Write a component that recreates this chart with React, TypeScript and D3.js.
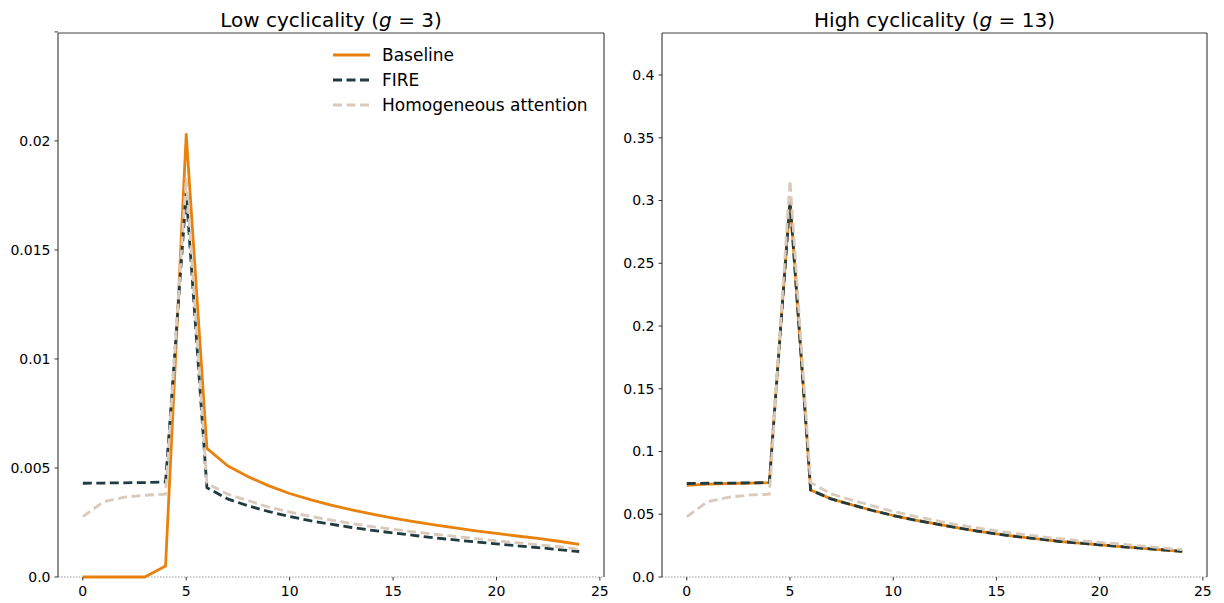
import React from "react";
import * as d3 from "d3";

const periods = d3.range(0, 25);

// Low cyclicality (g = 3)
const lowBaseline = [0, 0, 0, 0, 0.0005, 0.0203, 0.0059, 0.0051, 0.0046, 0.00418, 0.00383, 0.00355, 0.0033, 0.00308, 0.00288, 0.0027, 0.00254, 0.00239, 0.00225, 0.00212, 0.002, 0.00188, 0.00177, 0.00164, 0.0015];
const lowFire = [0.0043, 0.00431, 0.00432, 0.00433, 0.00436, 0.0176, 0.0041, 0.00358, 0.00326, 0.003, 0.00277, 0.00258, 0.00242, 0.00227, 0.00214, 0.00202, 0.00191, 0.0018, 0.0017, 0.00161, 0.00152, 0.00143, 0.00135, 0.00126, 0.00117];
const lowHomog = [0.00277, 0.00345, 0.00366, 0.00375, 0.0038, 0.0183, 0.0043, 0.0038, 0.0035, 0.0032, 0.00298, 0.00278, 0.00261, 0.00245, 0.00231, 0.00219, 0.00207, 0.00196, 0.00186, 0.00176, 0.00166, 0.00157, 0.00148, 0.00139, 0.00128];

// High cyclicality (g = 13)
const highBaseline = [0.073, 0.074, 0.0745, 0.0748, 0.0752, 0.302, 0.0693, 0.0622, 0.0575, 0.053, 0.049, 0.0455, 0.0425, 0.0395, 0.0368, 0.0343, 0.0322, 0.0303, 0.0285, 0.027, 0.0257, 0.0243, 0.023, 0.0217, 0.0204];
const highFire = [0.0745, 0.0747, 0.0748, 0.075, 0.0752, 0.3, 0.0693, 0.0622, 0.0575, 0.053, 0.049, 0.0455, 0.0425, 0.0395, 0.0368, 0.0343, 0.0322, 0.0303, 0.0285, 0.027, 0.0257, 0.0243, 0.023, 0.0217, 0.0204];
const highHomog = [0.048, 0.06, 0.0635, 0.0653, 0.066, 0.316, 0.0752, 0.0662, 0.0613, 0.0567, 0.0522, 0.0485, 0.0452, 0.042, 0.0393, 0.0368, 0.0345, 0.0325, 0.0306, 0.029, 0.0276, 0.0262, 0.0248, 0.0233, 0.0218];

const xTicks = [0, 5, 10, 15, 20, 25];
const lowYTicks = [0, 0.005, 0.01, 0.015, 0.02, 0.025];
const lowYLabels = ["0.0", "0.005", "0.01", "0.015", "0.02", ""];
const highYTicks = [0, 0.05, 0.1, 0.15, 0.2, 0.25, 0.3, 0.35, 0.4];
const highYLabels = ["0.0", "0.05", "0.1", "0.15", "0.2", "0.25", "0.3", "0.35", "0.4"];

const seriesNames = ["Baseline", "FIRE", "Homogeneous attention"];

const ORANGE = "#e8820c";
const DARK = "#213c40";
const BEIGE = "#d9cabb";
const FONT = "DejaVu Sans, sans-serif";

type PanelProps = {
  left: number;
  right: number;
  top: number;
  bottom: number;
  yMax: number;
  yTicks: number[];
  yLabels: string[];
  baseline: number[];
  fire: number[];
  homog: number[];
  titlePre: string;
  titleNum: string;
  legend?: boolean;
};

function Panel(p: PanelProps) {
  const x = d3.scaleLinear().domain([-1.2, 25.2]).range([p.left, p.right]);
  const y = d3.scaleLinear().domain([0, p.yMax]).range([p.bottom, p.top]);
  const line = (vals: number[]) =>
    d3.line<number>().x((_, i) => x(periods[i])).y((v) => y(v))(vals) || "";
  const cx = (p.left + p.right) / 2;
  const dash = "9,4.5";
  const lw = 2.8;
  return (
    <g>
      <text x={cx} y={26.5} textAnchor="middle" fontFamily={FONT} fontSize={20} fill="#000">
        {p.titlePre}
        <tspan fontStyle="italic">g</tspan>
        {" = " + p.titleNum + ")"}
      </text>
      {/* zero dotted line */}
      <line x1={p.left} x2={p.right} y1={p.bottom} y2={p.bottom} stroke="#999" strokeWidth={1} strokeDasharray="1.5,1.5" />
      {/* series */}
      <path d={line(p.baseline)} fill="none" stroke={ORANGE} strokeWidth={lw} strokeLinejoin="round" />
      <path d={line(p.fire)} fill="none" stroke={DARK} strokeWidth={lw} strokeDasharray={dash} />
      <path d={line(p.homog)} fill="none" stroke={BEIGE} strokeWidth={lw} strokeDasharray={dash} />
      {/* spines */}
      <line x1={p.left} x2={p.right} y1={p.top} y2={p.top} stroke="#808080" strokeWidth={1.3} />
      <line x1={p.left} x2={p.left} y1={p.top} y2={p.bottom} stroke="#222" strokeWidth={1} />
      <line x1={p.right} x2={p.right} y1={p.top} y2={p.bottom} stroke="#222" strokeWidth={1} />
      {/* x ticks */}
      {xTicks.map((t) => (
        <g key={"x" + t}>
          <line x1={x(t)} x2={x(t)} y1={p.bottom} y2={p.bottom + 3.5} stroke="#222" strokeWidth={0.9} />
          <text x={x(t)} y={p.bottom + 18.5} textAnchor="middle" fontFamily={FONT} fontSize={14} fill="#000">
            {t}
          </text>
        </g>
      ))}
      {/* y ticks */}
      {p.yTicks.map((t, i) => (
        <g key={"y" + t}>
          <line x1={p.left - 3.5} x2={p.left} y1={y(t)} y2={y(t)} stroke="#222" strokeWidth={0.9} />
          <text x={p.left - 7.5} y={y(t)} dy="0.35em" textAnchor="end" fontFamily={FONT} fontSize={14} fill="#000">
            {p.yLabels[i]}
          </text>
        </g>
      ))}
      {p.legend && (
        <g>
          {seriesNames.map((name, i) => {
            const ly = 55 + i * 25;
            const col = [ORANGE, DARK, BEIGE][i];
            return (
              <g key={name}>
                <line x1={333} x2={370} y1={ly} y2={ly} stroke={col} strokeWidth={lw} strokeDasharray={i === 0 ? undefined : dash} />
                <text x={382} y={ly} dy="0.35em" fontFamily={FONT} fontSize={17} fill="#000">
                  {name}
                </text>
              </g>
            );
          })}
        </g>
      )}
    </g>
  );
}

export default function App() {
  return (
    <svg width={1224} height={603} style={{ position: "fixed", left: 0, top: 0, background: "#fff" }}>
      <rect x={0} y={0} width={1224} height={603} fill="#fff" />
      <Panel
        left={58}
        right={604}
        top={33}
        bottom={577}
        yMax={0.02495}
        yTicks={lowYTicks}
        yLabels={lowYLabels}
        baseline={lowBaseline}
        fire={lowFire}
        homog={lowHomog}
        titlePre="Low cyclicality ("
        titleNum="3"
        legend
      />
      <Panel
        left={662}
        right={1207}
        top={33}
        bottom={577}
        yMax={0.4335}
        yTicks={highYTicks}
        yLabels={highYLabels}
        baseline={highBaseline}
        fire={highFire}
        homog={highHomog}
        titlePre="High cyclicality ("
        titleNum="13"
      />
    </svg>
  );
}
